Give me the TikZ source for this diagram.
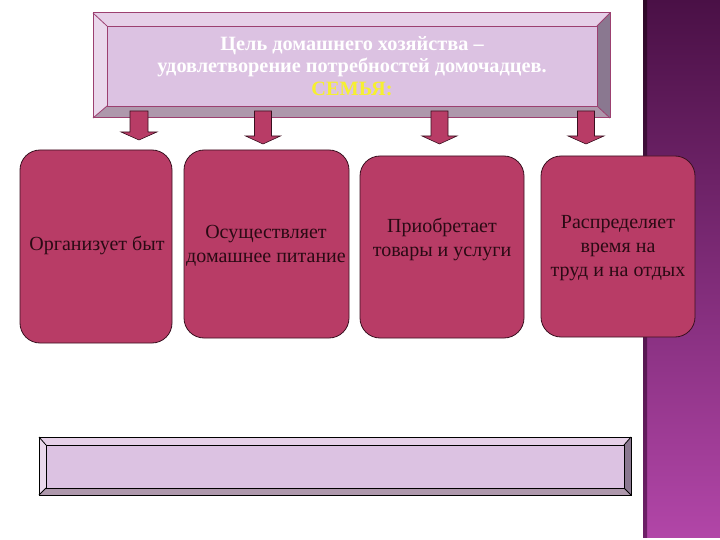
\documentclass[tikz,border=0pt]{standalone}
\usepackage{fontspec}
\setmainfont{Liberation Serif}
\definecolor{boxfill}{HTML}{B83C66}
\definecolor{boxline}{HTML}{3A1020}
\definecolor{boxtext}{HTML}{2A0A14}
\definecolor{face}{HTML}{DCC2E2}
\definecolor{bevtop}{HTML}{E6D0E8}
\definecolor{bevleft}{HTML}{EAD8EC}
\definecolor{bevbot}{HTML}{AE98AC}
\definecolor{bevright}{HTML}{8A7890}
\definecolor{topline}{HTML}{9C4070}
\definecolor{striptop}{HTML}{4A1046}
\definecolor{stripbot}{HTML}{B246A8}
\definecolor{edgetop}{HTML}{2E0828}
\definecolor{edgebot}{HTML}{6E2068}
\definecolor{goldtext}{HTML}{F6F030}
\newcommand\bevelframe[9]{%
  \fill[bevtop] (#1,#2) -- (#3,#2) -- (#7,#6) -- (#5,#6) -- cycle;
  \fill[bevleft] (#1,#2) -- (#5,#6) -- (#5,#8) -- (#1,#4) -- cycle;
  \fill[bevbot] (#1,#4) -- (#5,#8) -- (#7,#8) -- (#3,#4) -- cycle;
  \fill[bevright] (#3,#2) -- (#3,#4) -- (#7,#8) -- (#7,#6) -- cycle;
  \draw[#9, line width=0.8pt] (#1,#2) -- (#5,#6) (#3,#2) -- (#7,#6) (#1,#4) -- (#5,#8) (#3,#4) -- (#7,#8);
  \draw[#9, line width=1pt] (#1,#2) rectangle (#3,#4);
}
\newcommand\blockarrow[7]{% #1 cx, #2 ytop, #3 yhead, #4 ytip, #5 shaft half, #6 head half, #7 name
  \coordinate (#7) at (#1,#4);
  \filldraw[arrowstyle] (#1-#5,#2) -- (#1+#5,#2) -- (#1+#5,#3) -- (#1+#6,#3) -- (#7) -- (#1-#6,#3) -- (#1-#5,#3) -- cycle;
}
\begin{document}
\begin{tikzpicture}[x=1pt,y=-1pt,
  facebox/.style={draw, fill=face, line width=0.9pt, inner sep=0pt, align=center},
  rbox/.style={draw=boxline, fill=boxfill, line width=0.8pt, rounded corners=20pt, inner sep=0pt},
  rtext/.style={text=boxtext, align=center, font=\fontsize{20}{24}\selectfont, inner sep=0pt},
  arrowstyle/.style={fill=boxfill, draw=boxline, line width=0.6pt}]
\useasboundingbox (0,0) rectangle (720,540);
\fill[white] (0,0) rectangle (720,540);
% right decorative strip
\shade[top color=striptop, bottom color=stripbot] (643,0) rectangle (720,540);
\shade[top color=edgetop, bottom color=edgebot] (643,0) rectangle (647,540);
\fill[white] (643,538) rectangle (720,540);
% top bevelled box
\bevelframe{93}{13}{610}{118}{107}{26}{597}{106}{topline}
\node[facebox, draw=topline, minimum width=490pt, minimum height=80pt,
      font=\bfseries\fontsize{20.3}{22.5}\selectfont, text=white] (goal) at (352,66)
  {Цель домашнего хозяйства –\\удовлетворение потребностей домочадцев.\\\textcolor{goldtext}{СЕМЬЯ:}};
% boxes
\node[rbox, minimum width=152pt, minimum height=193pt] (b1) at (96,246.5) {};
\node[rbox, minimum width=165pt, minimum height=188pt] (b2) at (266.5,244) {};
\node[rbox, minimum width=164pt, minimum height=182pt] (b3) at (442,247) {};
\node[rbox, minimum width=154pt, minimum height=181pt] (b4) at (618,246.5) {};
\node[rtext] (t1) at (97,246) {Организует быт};
\node[rtext] (t2) at (266,246) {Осуществляет\\домашнее питание};
\node[rtext] (t3) at (442,239) {Приобретает\\товары и услуги};
\node[rtext] (t4) at (618,248) {Распределяет\\время на\\труд и на отдых};
% block arrows
\blockarrow{139}{111}{132}{140}{9}{18}{a1}
\blockarrow{263}{111}{136}{144}{8.5}{17.5}{a2}
\blockarrow{439.5}{111}{136}{144}{8.5}{17.5}{a3}
\blockarrow{586}{111}{136}{144}{8.5}{18}{a4}
% bottom bevelled bar
\bevelframe{39}{437}{631}{495}{46}{445}{624}{488}{black}
\node[facebox, draw=black, minimum width=578pt, minimum height=43pt] (bar) at (335,466.5) {};
\end{tikzpicture}
\end{document}
